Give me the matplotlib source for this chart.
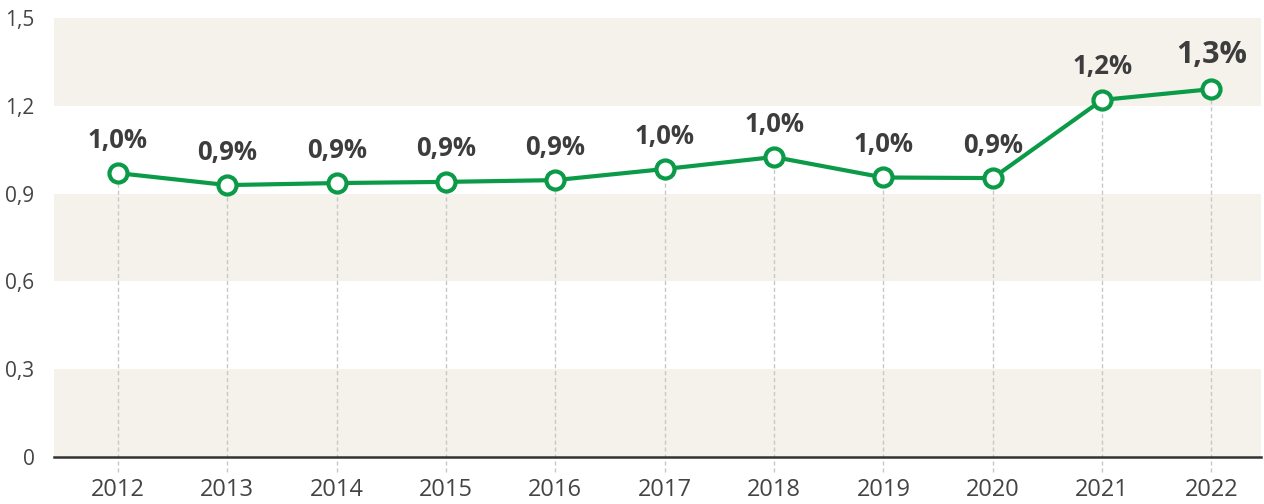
import matplotlib.pyplot as plt
from matplotlib.ticker import FuncFormatter

years = [2012, 2013, 2014, 2015, 2016, 2017, 2018, 2019, 2020, 2021, 2022]
values = [0.970, 0.929, 0.936, 0.940, 0.946, 0.984, 1.025, 0.955, 0.953, 1.220, 1.257]
labels = ["1,0%", "0,9%", "0,9%", "0,9%", "0,9%", "1,0%", "1,0%", "1,0%", "0,9%", "1,2%", "1,3%"]
y_ticks = [0, 0.3, 0.6, 0.9, 1.2, 1.5]

green = "#0a9a48"
band = "#f5f2ec"
text_col = "#3d3d3d"

plt.rcParams['font.family'] = ['Open Sans', 'DejaVu Sans']

fig = plt.figure(figsize=(12.64, 5.04), dpi=100)
ax = fig.add_axes([0.0427, 0.0933, 0.9553, 0.871])

ax.set_xlim(2011.415, 2022.457)
ax.set_ylim(0, 1.5)

# alternating bands
for i in range(0, len(y_ticks) - 1, 2):
    ax.axhspan(y_ticks[i], y_ticks[i + 1], color=band, lw=0, zorder=0)

# dashed drop lines
ax.vlines(years, -0.05, values, colors="#c8c8c8", linestyles=(0, (3, 2)),
          lw=1, zorder=1, clip_on=False)

ax.plot(years, values, color=green, lw=3, marker="o", ms=13,
        mfc="white", mec=green, mew=3, zorder=3)

for i, (x, y, lab) in enumerate(zip(years, values, labels)):
    last = i == len(years) - 1
    ax.annotate(lab, (x, y), xytext=(0, 14), textcoords="offset points",
                ha="center", va="bottom", fontsize=22 if last else 18.5,
                fontweight="bold", color=text_col)

for s in ["top", "right", "left"]:
    ax.spines[s].set_visible(False)
ax.spines["bottom"].set_color("#333333")
ax.spines["bottom"].set_linewidth(1.8)
ax.spines["bottom"].set_zorder(4)

ax.set_xticks(years)
ax.set_yticks(y_ticks)
ax.yaxis.set_major_formatter(FuncFormatter(
    lambda v, p: "0" if v == 0 else f"{v:.1f}".replace(".", ",")))
ax.tick_params(axis="x", length=0, pad=15, labelsize=17, labelcolor="#444444")
ax.tick_params(axis="y", length=0, pad=14, labelsize=15, labelcolor="#444444")

fig.savefig("out.png", dpi=100)
